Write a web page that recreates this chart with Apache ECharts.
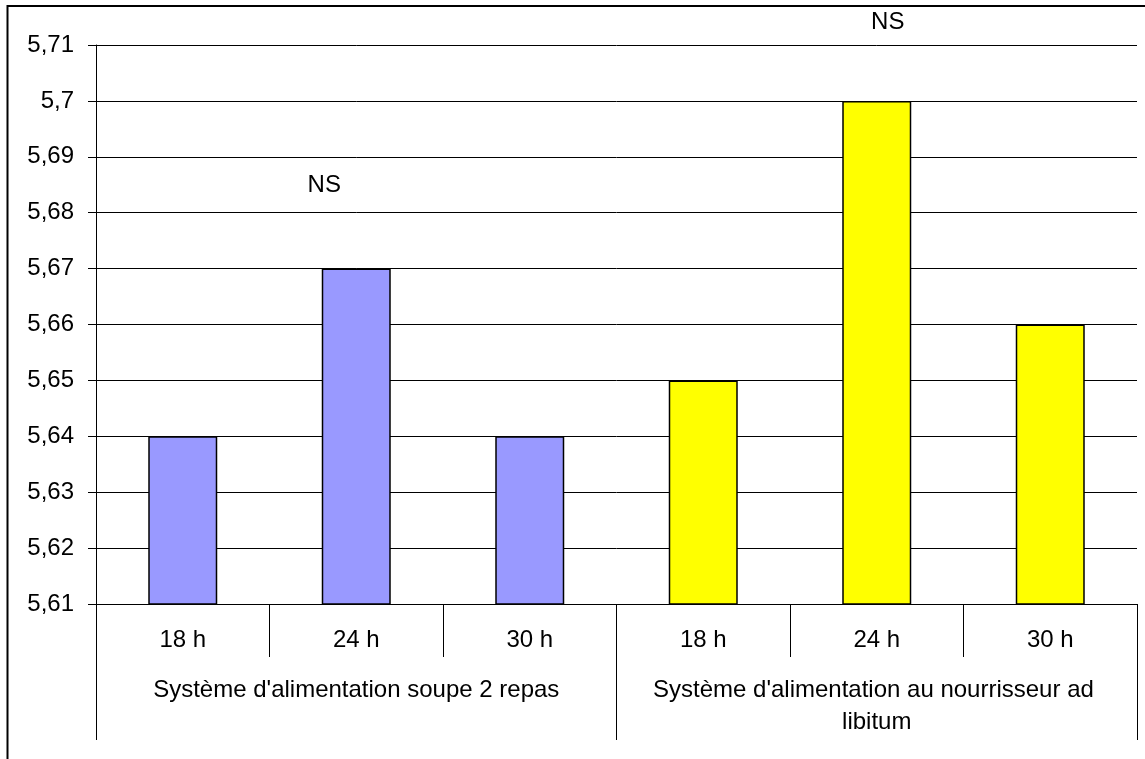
<!DOCTYPE html>
<html>
<head>
<meta charset="utf-8">
<script src="https://cdn.jsdelivr.net/npm/echarts@6/dist/echarts.min.js"></script>
<style>
  html, body { margin: 0; padding: 0; background: #fff; }
  #chart { width: 1145px; height: 759px; }
</style>
</head>
<body>
<div id="chart"></div>
<script>
// Fasting duration within each feeding system
const hours = ['18 h', '24 h', '30 h', '18 h', '24 h', '30 h'];
const systems = ["Système d'alimentation soupe 2 repas", "Système d'alimentation au nourrisseur ad libitum"];
// Mean values (one per bar)
const soupe = [5.64, 5.67, 5.64, null, null, null];
const nourrisseur = [null, null, null, 5.65, 5.70, 5.66];
// Significance note placed above the 24 h bar of each system
const signif = ['NS', 'NS'];
// Value axis range
const yMin = 5.61, yMax = 5.71, yStep = 0.01;

const FONT = 'Liberation Sans, Arial, sans-serif';
const FS = 24;
const chart = echarts.init(document.getElementById('chart'), null, { renderer: 'canvas' });

function withNote(values, noteIdx, note, offset) {
  return values.map((v, i) => {
    if (i !== noteIdx) return v;
    return {
      value: v,
      label: {
        show: true, position: 'top', formatter: note, offset: offset,
        color: '#000', fontFamily: FONT, fontSize: FS
      }
    };
  });
}

chart.setOption({
  animation: false,
  backgroundColor: '#fff',
  grid: { left: 96, right: 8, top: 45, bottom: 155, containLabel: false },
  graphic: [{
    type: 'rect', z: -1, silent: true,
    shape: { x: 7.5, y: 6, width: 1200, height: 800 },
    style: { fill: 'none', stroke: '#000', lineWidth: 2 }
  }],
  xAxis: [{
    type: 'category', data: hours, position: 'bottom',
    axisLine: { show: true, lineStyle: { color: '#000', width: 1 } },
    axisTick: { show: true, length: 53, interval: 0, lineStyle: { color: '#000' } },
    axisLabel: { interval: 0, margin: 24, color: '#000', fontFamily: FONT, fontSize: FS },
    splitLine: { show: false }
  }, {
    type: 'category', data: systems, position: 'bottom', offset: 0,
    axisLine: { show: false },
    axisTick: { show: true, length: 136, interval: 0, lineStyle: { color: '#000' } },
    axisLabel: {
      interval: 0, margin: 70, color: '#000', fontFamily: FONT, fontSize: FS,
      width: 460, overflow: 'break', lineHeight: 32, align: 'center'
    },
    splitLine: { show: false }
  }],
  yAxis: {
    type: 'value', min: yMin, max: yMax, interval: yStep,
    axisLine: { show: true, lineStyle: { color: '#000', width: 1 } },
    axisTick: { show: true, inside: false, length: 8, lineStyle: { color: '#000' } },
    axisLabel: {
      margin: 22, color: '#000', fontFamily: FONT, fontSize: FS,
      formatter: v => String(+v.toFixed(2)).replace('.', ',')
    },
    splitLine: { show: true, lineStyle: { color: '#000', width: 1 } }
  },
  series: [{
    type: 'bar', xAxisIndex: 0, data: withNote(soupe, 1, signif[0], [-32, -66]),
    barWidth: 69, barGap: '-100%',
    itemStyle: { color: '#9999FF', borderColor: '#000', borderWidth: 1.5 }
  }, {
    type: 'bar', xAxisIndex: 0, data: withNote(nourrisseur, 4, signif[1], [11, -62]),
    barWidth: 69, barGap: '-100%',
    itemStyle: { color: '#FFFF00', borderColor: '#000', borderWidth: 1.5 }
  }]
});
</script>
</body>
</html>
